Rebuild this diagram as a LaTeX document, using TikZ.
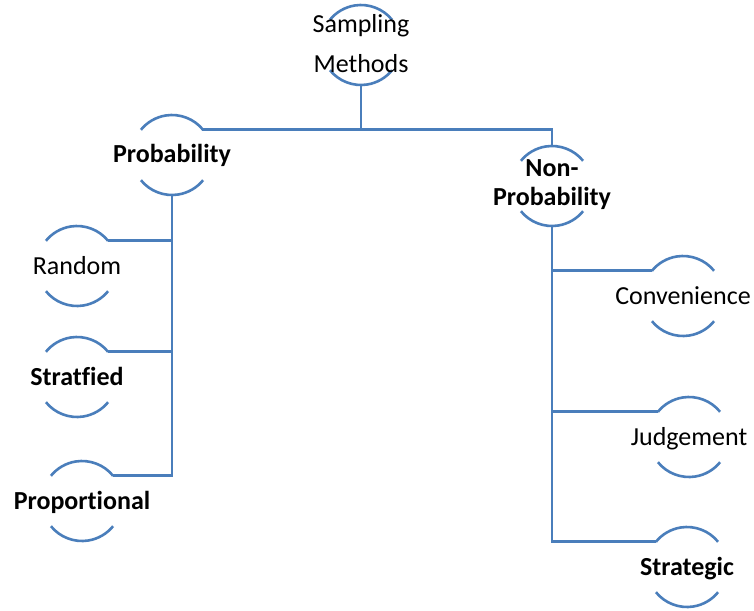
\documentclass[tikz,border=0pt]{standalone}
\usepackage{fontspec}
\setmainfont{Carlito}[RawFeature={-liga}]
\definecolor{treeblue}{RGB}{74,126,187}
\tikzset{
  ring/.style={draw=treeblue, line width=2.6bp},
  link/.style={draw=treeblue, line width=2.9bp},
  lbl/.style={inner sep=0pt, anchor=base, font=\fontsize{26bp}{30bp}\selectfont},
  blbl/.style={lbl, font=\fontsize{26bp}{30bp}\selectfont\bfseries},
}
\begin{document}
\begin{tikzpicture}[x=1bp,y=1bp]
\fill[white] (0,0) rectangle (754,-611);
\useasboundingbox (0,0) rectangle (754,-611);

% centres of the half-open rings
\coordinate (sm)    at (361,-45);
\coordinate (prob)  at (172,-155);
\coordinate (np)    at (552,-186);
\coordinate (rand)  at (77,-266);
\coordinate (strat) at (77,-377);
\coordinate (prop)  at (82,-501);
\coordinate (conv)  at (683,-296);
\coordinate (judg)  at (689,-437);
\coordinate (strg)  at (687,-567);

% top and bottom arcs of each ring
\foreach \c in {sm,prob,np,rand,strat,prop,conv,judg,strg}{
  \draw[ring] ([shift={(39:40)}]\c) arc[start angle=39,end angle=141,radius=40];
  \draw[ring] ([shift={(219:40)}]\c) arc[start angle=219,end angle=321,radius=40];
}

% labels (base of a two-line label is its last line)
\node[lbl, align=center, font=\fontsize{26bp}{40bp}\selectfont] (sm-t) at (361,-73) {Sampling\\Methods};
\node[blbl] (prob-t)  at (172,-163) {Probability};
\node[blbl, align=center, font=\fontsize{26bp}{29bp}\selectfont\bfseries] (np-t) at (552,-206) {Non-\\Probability};
\node[lbl]  (rand-t)  at (77,-274) {Random};
\node[blbl] (strat-t) at (77,-385) {Stratfied};
\node[blbl] (prop-t)  at (82,-509) {Proportional};
\node[lbl]  (conv-t)  at (683,-304) {Convenience};
\node[lbl]  (judg-t)  at (689,-445) {Judgement};
\node[blbl] (strg-t)  at (687,-575) {Strategic};

% connectors from the root
\coordinate (split) at ([yshift=-85]sm);
\draw[link] ([yshift=-40]sm) -- (split);
\draw[link] (split) -| ([shift={(39:40)}]prob);
\draw[link] (split) -| ([yshift=40]np);

% probability branch
\draw[link] ([yshift=-40]prob) |- ([shift={(39:40)}]prop);
\draw[link] ([shift={(39:40)}]rand) -| ([yshift=-40]prob);
\draw[link] ([shift={(39:40)}]strat) -| ([yshift=-40]prob);

% non-probability branch
\draw[link] ([yshift=-40]np) |- ([shift={(141:40)}]strg);
\draw[link] ([shift={(141:40)}]conv) -| ([yshift=-40]np);
\draw[link] ([shift={(141:40)}]judg) -| ([yshift=-40]np);
\end{tikzpicture}
\end{document}
